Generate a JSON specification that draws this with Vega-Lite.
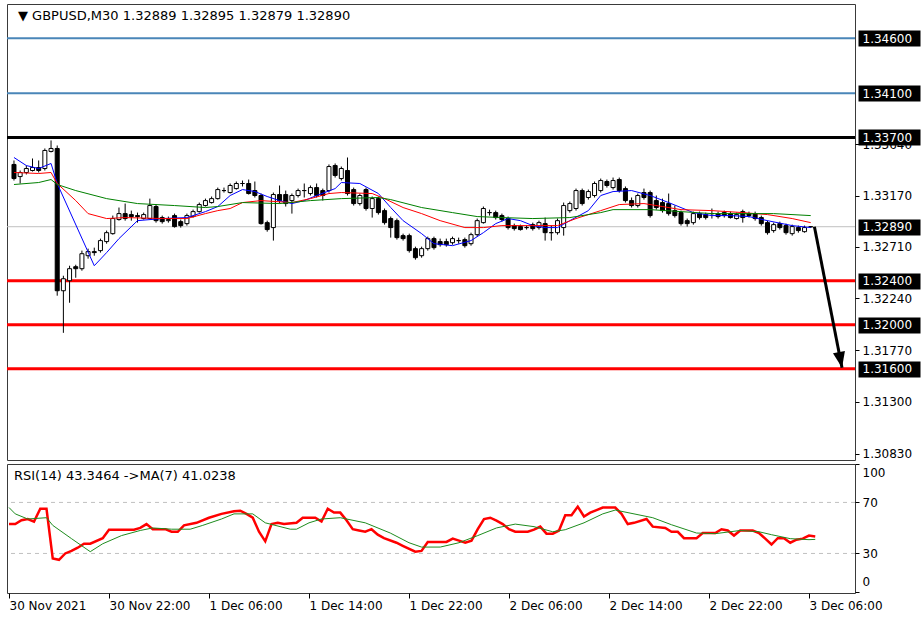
{
  "$schema": "https://vega.github.io/schema/vega-lite/v6.json",
  "background": "white",
  "padding": {"left": 3, "top": 3, "right": 0, "bottom": 0},
  "config": {
    "view": {"stroke": "#3a3a3a", "strokeWidth": 1},
    "font": "DejaVu Sans",
    "axis": {"grid": false, "labelFont": "DejaVu Sans", "labelFontSize": 12, "labelColor": "#000000", "tickColor": "#000000", "domain": false, "title": null}
  },
  "datasets": {
    "headers": [
      {"panel": "price", "label": "▼ GBPUSD,M30  1.32889 1.32895 1.32879 1.32890"},
      {"panel": "rsi", "label": "RSI(14) 43.3464  ->MA(7) 41.0238"}
    ],
    "levels": [
      {"p": 1.346, "kind": "target"},
      {"p": 1.341, "kind": "target"},
      {"p": 1.337, "kind": "resistance"},
      {"p": 1.3289, "kind": "price"},
      {"p": 1.324, "kind": "support"},
      {"p": 1.32, "kind": "support"},
      {"p": 1.316, "kind": "support"}
    ],
    "arrow": [
      {"t1": "2021-12-03T06:48", "p1": 1.3289, "t2": "2021-12-03T09:02", "p2": 1.3161}
    ],
    "rsiLevels": [{"v": 30}, {"v": 70}],
    "candles": [
      {"t":"2021-11-30T14:00","o":1.33455,"h":1.33491,"l":1.33309,"c":1.33327},
      {"t":"2021-11-30T14:30","o":1.33345,"h":1.334,"l":1.33282,"c":1.33382},
      {"t":"2021-11-30T15:00","o":1.33382,"h":1.33445,"l":1.33364,"c":1.33418},
      {"t":"2021-11-30T15:30","o":1.334,"h":1.33509,"l":1.33391,"c":1.33427},
      {"t":"2021-11-30T16:00","o":1.33427,"h":1.33491,"l":1.33382,"c":1.334},
      {"t":"2021-11-30T16:30","o":1.33418,"h":1.336,"l":1.334,"c":1.33582},
      {"t":"2021-11-30T17:00","o":1.33573,"h":1.33673,"l":1.33564,"c":1.336},
      {"t":"2021-11-30T17:30","o":1.336,"h":1.33627,"l":1.32264,"c":1.32309},
      {"t":"2021-11-30T18:00","o":1.32309,"h":1.32445,"l":1.31927,"c":1.32418},
      {"t":"2021-11-30T18:30","o":1.324,"h":1.32536,"l":1.322,"c":1.32509},
      {"t":"2021-11-30T19:00","o":1.32527,"h":1.32545,"l":1.32427,"c":1.32509},
      {"t":"2021-11-30T19:30","o":1.32509,"h":1.32673,"l":1.32491,"c":1.32645},
      {"t":"2021-11-30T20:00","o":1.32627,"h":1.32691,"l":1.326,"c":1.32664},
      {"t":"2021-11-30T20:30","o":1.32664,"h":1.327,"l":1.32627,"c":1.32655},
      {"t":"2021-11-30T21:00","o":1.32673,"h":1.32782,"l":1.32655,"c":1.32764},
      {"t":"2021-11-30T21:30","o":1.32755,"h":1.32855,"l":1.32736,"c":1.32836},
      {"t":"2021-11-30T22:00","o":1.32827,"h":1.32991,"l":1.32818,"c":1.32964},
      {"t":"2021-11-30T22:30","o":1.32955,"h":1.33064,"l":1.32945,"c":1.33009},
      {"t":"2021-11-30T23:00","o":1.33009,"h":1.331,"l":1.32945,"c":1.32964},
      {"t":"2021-11-30T23:30","o":1.33,"h":1.33036,"l":1.32945,"c":1.32982},
      {"t":"2021-12-01T00:00","o":1.32991,"h":1.33018,"l":1.32927,"c":1.32982},
      {"t":"2021-12-01T00:30","o":1.32964,"h":1.33018,"l":1.32955,"c":1.33},
      {"t":"2021-12-01T01:00","o":1.32964,"h":1.33145,"l":1.32955,"c":1.33082},
      {"t":"2021-12-01T01:30","o":1.33073,"h":1.33091,"l":1.32927,"c":1.32945},
      {"t":"2021-12-01T02:00","o":1.32973,"h":1.32991,"l":1.32918,"c":1.32936},
      {"t":"2021-12-01T02:30","o":1.32945,"h":1.32982,"l":1.32927,"c":1.32955},
      {"t":"2021-12-01T03:00","o":1.32991,"h":1.33009,"l":1.32882,"c":1.32891},
      {"t":"2021-12-01T03:30","o":1.32936,"h":1.32955,"l":1.32882,"c":1.329},
      {"t":"2021-12-01T04:00","o":1.32918,"h":1.33009,"l":1.329,"c":1.32991},
      {"t":"2021-12-01T04:30","o":1.32982,"h":1.33045,"l":1.32973,"c":1.33027},
      {"t":"2021-12-01T05:00","o":1.33027,"h":1.33109,"l":1.33018,"c":1.33091},
      {"t":"2021-12-01T05:30","o":1.33082,"h":1.33145,"l":1.33073,"c":1.33127},
      {"t":"2021-12-01T06:00","o":1.33109,"h":1.33164,"l":1.331,"c":1.33145},
      {"t":"2021-12-01T06:30","o":1.33145,"h":1.33245,"l":1.33136,"c":1.33227},
      {"t":"2021-12-01T07:00","o":1.33218,"h":1.33245,"l":1.332,"c":1.33218},
      {"t":"2021-12-01T07:30","o":1.332,"h":1.33282,"l":1.33191,"c":1.33264},
      {"t":"2021-12-01T08:00","o":1.33236,"h":1.333,"l":1.33227,"c":1.33282},
      {"t":"2021-12-01T08:30","o":1.33282,"h":1.33309,"l":1.33255,"c":1.33282},
      {"t":"2021-12-01T09:00","o":1.33282,"h":1.33318,"l":1.33182,"c":1.33191},
      {"t":"2021-12-01T09:30","o":1.33218,"h":1.333,"l":1.33155,"c":1.33173},
      {"t":"2021-12-01T10:00","o":1.33173,"h":1.33191,"l":1.32909,"c":1.32918},
      {"t":"2021-12-01T10:30","o":1.32927,"h":1.32945,"l":1.32845,"c":1.32864},
      {"t":"2021-12-01T11:00","o":1.32882,"h":1.332,"l":1.32764,"c":1.33182},
      {"t":"2021-12-01T11:30","o":1.33182,"h":1.33264,"l":1.331,"c":1.33127},
      {"t":"2021-12-01T12:00","o":1.33182,"h":1.33218,"l":1.33073,"c":1.331},
      {"t":"2021-12-01T12:30","o":1.33127,"h":1.33191,"l":1.33009,"c":1.33173},
      {"t":"2021-12-01T13:00","o":1.33173,"h":1.33236,"l":1.33155,"c":1.33218},
      {"t":"2021-12-01T13:30","o":1.33218,"h":1.33282,"l":1.33155,"c":1.33218},
      {"t":"2021-12-01T14:00","o":1.33191,"h":1.33264,"l":1.33173,"c":1.33245},
      {"t":"2021-12-01T14:30","o":1.33245,"h":1.33282,"l":1.33155,"c":1.33173},
      {"t":"2021-12-01T15:00","o":1.33218,"h":1.33236,"l":1.33127,"c":1.33173},
      {"t":"2021-12-01T15:30","o":1.33218,"h":1.33455,"l":1.332,"c":1.33436},
      {"t":"2021-12-01T16:00","o":1.33445,"h":1.33464,"l":1.33336,"c":1.33355},
      {"t":"2021-12-01T16:30","o":1.33327,"h":1.33436,"l":1.33309,"c":1.33418},
      {"t":"2021-12-01T17:00","o":1.334,"h":1.33518,"l":1.33173,"c":1.33191},
      {"t":"2021-12-01T17:30","o":1.33227,"h":1.33245,"l":1.33082,"c":1.331},
      {"t":"2021-12-01T18:00","o":1.331,"h":1.33191,"l":1.33082,"c":1.33173},
      {"t":"2021-12-01T18:30","o":1.33227,"h":1.33245,"l":1.33036,"c":1.33055},
      {"t":"2021-12-01T19:00","o":1.33055,"h":1.33164,"l":1.32973,"c":1.33145},
      {"t":"2021-12-01T19:30","o":1.33145,"h":1.33164,"l":1.33,"c":1.33018},
      {"t":"2021-12-01T20:00","o":1.33036,"h":1.33055,"l":1.32909,"c":1.32927},
      {"t":"2021-12-01T20:30","o":1.32964,"h":1.32982,"l":1.32791,"c":1.32882},
      {"t":"2021-12-01T21:00","o":1.32945,"h":1.32964,"l":1.32773,"c":1.32791},
      {"t":"2021-12-01T21:30","o":1.32809,"h":1.32827,"l":1.32764,"c":1.32782},
      {"t":"2021-12-01T22:00","o":1.32809,"h":1.32827,"l":1.32655,"c":1.32673},
      {"t":"2021-12-01T22:30","o":1.32691,"h":1.32709,"l":1.32591,"c":1.32609},
      {"t":"2021-12-01T23:00","o":1.32627,"h":1.32709,"l":1.32609,"c":1.32691},
      {"t":"2021-12-01T23:30","o":1.32691,"h":1.328,"l":1.32673,"c":1.32782},
      {"t":"2021-12-02T00:00","o":1.32782,"h":1.328,"l":1.32682,"c":1.327},
      {"t":"2021-12-02T00:30","o":1.32755,"h":1.32782,"l":1.32709,"c":1.32727},
      {"t":"2021-12-02T01:00","o":1.32755,"h":1.32782,"l":1.32709,"c":1.32727},
      {"t":"2021-12-02T01:30","o":1.32745,"h":1.328,"l":1.32727,"c":1.32782},
      {"t":"2021-12-02T02:00","o":1.32764,"h":1.32791,"l":1.32736,"c":1.32764},
      {"t":"2021-12-02T02:30","o":1.32773,"h":1.32791,"l":1.327,"c":1.32718},
      {"t":"2021-12-02T03:00","o":1.32736,"h":1.32836,"l":1.32718,"c":1.32818},
      {"t":"2021-12-02T03:30","o":1.32818,"h":1.32964,"l":1.328,"c":1.32945},
      {"t":"2021-12-02T04:00","o":1.32927,"h":1.33073,"l":1.32918,"c":1.33055},
      {"t":"2021-12-02T04:30","o":1.33018,"h":1.33045,"l":1.32991,"c":1.33018},
      {"t":"2021-12-02T05:00","o":1.33018,"h":1.33036,"l":1.32955,"c":1.32973},
      {"t":"2021-12-02T05:30","o":1.32991,"h":1.33009,"l":1.32936,"c":1.32955},
      {"t":"2021-12-02T06:00","o":1.32964,"h":1.32982,"l":1.32864,"c":1.32882},
      {"t":"2021-12-02T06:30","o":1.329,"h":1.32918,"l":1.32855,"c":1.32873},
      {"t":"2021-12-02T07:00","o":1.32891,"h":1.32909,"l":1.32855,"c":1.32864},
      {"t":"2021-12-02T07:30","o":1.32882,"h":1.329,"l":1.32864,"c":1.32882},
      {"t":"2021-12-02T08:00","o":1.32909,"h":1.32927,"l":1.32855,"c":1.32873},
      {"t":"2021-12-02T08:30","o":1.32882,"h":1.32945,"l":1.32864,"c":1.32927},
      {"t":"2021-12-02T09:00","o":1.32918,"h":1.32973,"l":1.32764,"c":1.32836},
      {"t":"2021-12-02T09:30","o":1.32836,"h":1.329,"l":1.32764,"c":1.32836},
      {"t":"2021-12-02T10:00","o":1.32836,"h":1.32964,"l":1.32818,"c":1.32945},
      {"t":"2021-12-02T10:30","o":1.32882,"h":1.33109,"l":1.32809,"c":1.33082},
      {"t":"2021-12-02T11:00","o":1.33036,"h":1.33118,"l":1.33018,"c":1.331},
      {"t":"2021-12-02T11:30","o":1.33055,"h":1.33236,"l":1.33036,"c":1.33218},
      {"t":"2021-12-02T12:00","o":1.33218,"h":1.33236,"l":1.33082,"c":1.331},
      {"t":"2021-12-02T12:30","o":1.33155,"h":1.33227,"l":1.33136,"c":1.33209},
      {"t":"2021-12-02T13:00","o":1.33173,"h":1.333,"l":1.33155,"c":1.33282},
      {"t":"2021-12-02T13:30","o":1.33218,"h":1.33327,"l":1.332,"c":1.33309},
      {"t":"2021-12-02T14:00","o":1.333,"h":1.33318,"l":1.33245,"c":1.33264},
      {"t":"2021-12-02T14:30","o":1.33245,"h":1.33336,"l":1.33227,"c":1.33309},
      {"t":"2021-12-02T15:00","o":1.33318,"h":1.33336,"l":1.332,"c":1.33218},
      {"t":"2021-12-02T15:30","o":1.33236,"h":1.33255,"l":1.33109,"c":1.33127},
      {"t":"2021-12-02T16:00","o":1.33127,"h":1.33155,"l":1.33064,"c":1.33082},
      {"t":"2021-12-02T16:30","o":1.33082,"h":1.33191,"l":1.33064,"c":1.33173},
      {"t":"2021-12-02T17:00","o":1.332,"h":1.33236,"l":1.33136,"c":1.33155},
      {"t":"2021-12-02T17:30","o":1.332,"h":1.33218,"l":1.32973,"c":1.32991},
      {"t":"2021-12-02T18:00","o":1.33127,"h":1.33173,"l":1.33045,"c":1.33064},
      {"t":"2021-12-02T18:30","o":1.33109,"h":1.33145,"l":1.33018,"c":1.33036},
      {"t":"2021-12-02T19:00","o":1.331,"h":1.33191,"l":1.32991,"c":1.33009},
      {"t":"2021-12-02T19:30","o":1.33036,"h":1.33082,"l":1.32973,"c":1.32991},
      {"t":"2021-12-02T20:00","o":1.33018,"h":1.33036,"l":1.329,"c":1.32918},
      {"t":"2021-12-02T20:30","o":1.32945,"h":1.32964,"l":1.32891,"c":1.32918},
      {"t":"2021-12-02T21:00","o":1.32927,"h":1.33027,"l":1.32909,"c":1.33009},
      {"t":"2021-12-02T21:30","o":1.33009,"h":1.33027,"l":1.32955,"c":1.32973},
      {"t":"2021-12-02T22:00","o":1.33,"h":1.33018,"l":1.32955,"c":1.32973},
      {"t":"2021-12-02T22:30","o":1.33009,"h":1.33055,"l":1.32964,"c":1.33009},
      {"t":"2021-12-02T23:00","o":1.33009,"h":1.33027,"l":1.32964,"c":1.32982},
      {"t":"2021-12-02T23:30","o":1.33018,"h":1.33036,"l":1.32973,"c":1.32991},
      {"t":"2021-12-03T00:00","o":1.33009,"h":1.33027,"l":1.32964,"c":1.32973},
      {"t":"2021-12-03T00:30","o":1.32964,"h":1.33018,"l":1.32955,"c":1.33},
      {"t":"2021-12-03T01:00","o":1.33027,"h":1.33045,"l":1.32927,"c":1.32973},
      {"t":"2021-12-03T01:30","o":1.33009,"h":1.33027,"l":1.32973,"c":1.32991},
      {"t":"2021-12-03T02:00","o":1.33009,"h":1.33027,"l":1.32945,"c":1.32964},
      {"t":"2021-12-03T02:30","o":1.32973,"h":1.32991,"l":1.329,"c":1.32918},
      {"t":"2021-12-03T03:00","o":1.32927,"h":1.32945,"l":1.32818,"c":1.32836},
      {"t":"2021-12-03T03:30","o":1.32855,"h":1.32927,"l":1.32836,"c":1.32909},
      {"t":"2021-12-03T04:00","o":1.32918,"h":1.32936,"l":1.32864,"c":1.32882},
      {"t":"2021-12-03T04:30","o":1.329,"h":1.32918,"l":1.32818,"c":1.32836},
      {"t":"2021-12-03T05:00","o":1.32827,"h":1.32909,"l":1.32809,"c":1.32891},
      {"t":"2021-12-03T05:30","o":1.32882,"h":1.329,"l":1.32836,"c":1.32855},
      {"t":"2021-12-03T06:00","o":1.32845,"h":1.329,"l":1.32836,"c":1.32882},
      {"t":"2021-12-03T06:30","o":1.32889,"h":1.32895,"l":1.32879,"c":1.3289}
    ],
    "ma": [
      {"t":"2021-11-30T14:00","s":"fast","v":1.33518},
      {"t":"2021-11-30T15:00","s":"fast","v":1.33445},
      {"t":"2021-11-30T16:00","s":"fast","v":1.33418},
      {"t":"2021-11-30T17:00","s":"fast","v":1.33464},
      {"t":"2021-11-30T17:30","s":"fast","v":1.33282},
      {"t":"2021-11-30T20:30","s":"fast","v":1.32536},
      {"t":"2021-11-30T21:30","s":"fast","v":1.32655},
      {"t":"2021-11-30T22:30","s":"fast","v":1.32782},
      {"t":"2021-12-01T00:00","s":"fast","v":1.32945},
      {"t":"2021-12-01T02:00","s":"fast","v":1.32964},
      {"t":"2021-12-01T04:00","s":"fast","v":1.32973},
      {"t":"2021-12-01T05:30","s":"fast","v":1.33027},
      {"t":"2021-12-01T06:30","s":"fast","v":1.33073},
      {"t":"2021-12-01T07:30","s":"fast","v":1.33173},
      {"t":"2021-12-01T08:30","s":"fast","v":1.33227},
      {"t":"2021-12-01T09:30","s":"fast","v":1.33209},
      {"t":"2021-12-01T10:30","s":"fast","v":1.33164},
      {"t":"2021-12-01T11:30","s":"fast","v":1.33127},
      {"t":"2021-12-01T12:30","s":"fast","v":1.331},
      {"t":"2021-12-01T13:30","s":"fast","v":1.33127},
      {"t":"2021-12-01T14:30","s":"fast","v":1.33173},
      {"t":"2021-12-01T16:00","s":"fast","v":1.33236},
      {"t":"2021-12-01T16:30","s":"fast","v":1.33291},
      {"t":"2021-12-01T18:00","s":"fast","v":1.33282},
      {"t":"2021-12-01T19:30","s":"fast","v":1.33191},
      {"t":"2021-12-01T20:30","s":"fast","v":1.33064},
      {"t":"2021-12-01T21:30","s":"fast","v":1.32945},
      {"t":"2021-12-01T23:00","s":"fast","v":1.32827},
      {"t":"2021-12-02T00:00","s":"fast","v":1.32736},
      {"t":"2021-12-02T01:30","s":"fast","v":1.32718},
      {"t":"2021-12-02T03:00","s":"fast","v":1.32764},
      {"t":"2021-12-02T04:00","s":"fast","v":1.32836},
      {"t":"2021-12-02T05:00","s":"fast","v":1.32918},
      {"t":"2021-12-02T06:00","s":"fast","v":1.32964},
      {"t":"2021-12-02T07:00","s":"fast","v":1.32945},
      {"t":"2021-12-02T08:00","s":"fast","v":1.329},
      {"t":"2021-12-02T09:00","s":"fast","v":1.32882},
      {"t":"2021-12-02T10:00","s":"fast","v":1.32882},
      {"t":"2021-12-02T11:00","s":"fast","v":1.32945},
      {"t":"2021-12-02T12:30","s":"fast","v":1.33036},
      {"t":"2021-12-02T13:30","s":"fast","v":1.33173},
      {"t":"2021-12-02T14:30","s":"fast","v":1.33209},
      {"t":"2021-12-02T16:00","s":"fast","v":1.33218},
      {"t":"2021-12-02T17:30","s":"fast","v":1.33173},
      {"t":"2021-12-02T19:00","s":"fast","v":1.33109},
      {"t":"2021-12-02T21:00","s":"fast","v":1.33018},
      {"t":"2021-12-02T22:30","s":"fast","v":1.32991},
      {"t":"2021-12-03T00:00","s":"fast","v":1.32991},
      {"t":"2021-12-03T01:30","s":"fast","v":1.32982},
      {"t":"2021-12-03T03:00","s":"fast","v":1.32945},
      {"t":"2021-12-03T05:00","s":"fast","v":1.329},
      {"t":"2021-12-03T06:30","s":"fast","v":1.32882},
      {"t":"2021-11-30T14:00","s":"mid","v":1.33382},
      {"t":"2021-11-30T16:00","s":"mid","v":1.33373},
      {"t":"2021-11-30T17:00","s":"mid","v":1.33382},
      {"t":"2021-11-30T17:30","s":"mid","v":1.33282},
      {"t":"2021-11-30T19:00","s":"mid","v":1.33127},
      {"t":"2021-11-30T20:00","s":"mid","v":1.33009},
      {"t":"2021-11-30T21:30","s":"mid","v":1.32964},
      {"t":"2021-11-30T23:00","s":"mid","v":1.32973},
      {"t":"2021-12-01T02:00","s":"mid","v":1.32964},
      {"t":"2021-12-01T04:00","s":"mid","v":1.32964},
      {"t":"2021-12-01T05:30","s":"mid","v":1.33009},
      {"t":"2021-12-01T06:30","s":"mid","v":1.33036},
      {"t":"2021-12-01T07:30","s":"mid","v":1.33055},
      {"t":"2021-12-01T08:30","s":"mid","v":1.33109},
      {"t":"2021-12-01T10:00","s":"mid","v":1.33127},
      {"t":"2021-12-01T12:30","s":"mid","v":1.33109},
      {"t":"2021-12-01T14:00","s":"mid","v":1.33145},
      {"t":"2021-12-01T15:30","s":"mid","v":1.33191},
      {"t":"2021-12-01T16:30","s":"mid","v":1.332},
      {"t":"2021-12-01T19:00","s":"mid","v":1.33191},
      {"t":"2021-12-01T20:00","s":"mid","v":1.33145},
      {"t":"2021-12-01T21:30","s":"mid","v":1.33064},
      {"t":"2021-12-01T23:00","s":"mid","v":1.33009},
      {"t":"2021-12-02T00:30","s":"mid","v":1.32945},
      {"t":"2021-12-02T02:30","s":"mid","v":1.32882},
      {"t":"2021-12-02T04:00","s":"mid","v":1.32882},
      {"t":"2021-12-02T05:30","s":"mid","v":1.329},
      {"t":"2021-12-02T08:00","s":"mid","v":1.329},
      {"t":"2021-12-02T10:00","s":"mid","v":1.329},
      {"t":"2021-12-02T11:30","s":"mid","v":1.32964},
      {"t":"2021-12-02T13:30","s":"mid","v":1.33036},
      {"t":"2021-12-02T15:00","s":"mid","v":1.33091},
      {"t":"2021-12-02T17:00","s":"mid","v":1.331},
      {"t":"2021-12-02T18:30","s":"mid","v":1.33073},
      {"t":"2021-12-02T20:00","s":"mid","v":1.33045},
      {"t":"2021-12-02T22:30","s":"mid","v":1.33036},
      {"t":"2021-12-03T01:00","s":"mid","v":1.33018},
      {"t":"2021-12-03T03:00","s":"mid","v":1.33},
      {"t":"2021-12-03T05:00","s":"mid","v":1.32964},
      {"t":"2021-12-03T06:30","s":"mid","v":1.32927},
      {"t":"2021-11-30T14:00","s":"slow","v":1.33273},
      {"t":"2021-11-30T16:00","s":"slow","v":1.33291},
      {"t":"2021-11-30T17:00","s":"slow","v":1.33318},
      {"t":"2021-11-30T17:30","s":"slow","v":1.33273},
      {"t":"2021-11-30T19:00","s":"slow","v":1.33218},
      {"t":"2021-11-30T21:30","s":"slow","v":1.33145},
      {"t":"2021-12-01T00:00","s":"slow","v":1.331},
      {"t":"2021-12-01T03:00","s":"slow","v":1.33082},
      {"t":"2021-12-01T05:30","s":"slow","v":1.33064},
      {"t":"2021-12-01T06:30","s":"slow","v":1.33073},
      {"t":"2021-12-01T08:30","s":"slow","v":1.33109},
      {"t":"2021-12-01T11:30","s":"slow","v":1.331},
      {"t":"2021-12-01T14:00","s":"slow","v":1.33127},
      {"t":"2021-12-01T16:30","s":"slow","v":1.33145},
      {"t":"2021-12-01T19:30","s":"slow","v":1.33155},
      {"t":"2021-12-01T20:30","s":"slow","v":1.33136},
      {"t":"2021-12-01T23:00","s":"slow","v":1.33064},
      {"t":"2021-12-02T01:30","s":"slow","v":1.33018},
      {"t":"2021-12-02T03:30","s":"slow","v":1.32982},
      {"t":"2021-12-02T05:30","s":"slow","v":1.32973},
      {"t":"2021-12-02T08:00","s":"slow","v":1.32964},
      {"t":"2021-12-02T11:00","s":"slow","v":1.32973},
      {"t":"2021-12-02T13:30","s":"slow","v":1.33018},
      {"t":"2021-12-02T14:30","s":"slow","v":1.33045},
      {"t":"2021-12-02T17:30","s":"slow","v":1.33045},
      {"t":"2021-12-02T20:00","s":"slow","v":1.33027},
      {"t":"2021-12-02T22:30","s":"slow","v":1.33009},
      {"t":"2021-12-03T01:00","s":"slow","v":1.33009},
      {"t":"2021-12-03T03:30","s":"slow","v":1.33009},
      {"t":"2021-12-03T06:30","s":"slow","v":1.32991}
    ],
    "rsi": [
      {"t":"2021-11-30T14:00","s":"rsi","v":53},
      {"t":"2021-11-30T14:30","s":"rsi","v":53},
      {"t":"2021-11-30T15:00","s":"rsi","v":56},
      {"t":"2021-11-30T15:30","s":"rsi","v":57},
      {"t":"2021-11-30T16:00","s":"rsi","v":55},
      {"t":"2021-11-30T16:30","s":"rsi","v":65},
      {"t":"2021-11-30T17:00","s":"rsi","v":65},
      {"t":"2021-11-30T17:30","s":"rsi","v":26},
      {"t":"2021-11-30T18:00","s":"rsi","v":25},
      {"t":"2021-11-30T18:30","s":"rsi","v":30},
      {"t":"2021-11-30T19:00","s":"rsi","v":32},
      {"t":"2021-11-30T19:30","s":"rsi","v":34.5},
      {"t":"2021-11-30T20:00","s":"rsi","v":37.6},
      {"t":"2021-11-30T20:30","s":"rsi","v":37.6},
      {"t":"2021-11-30T21:30","s":"rsi","v":42},
      {"t":"2021-11-30T22:00","s":"rsi","v":48.6},
      {"t":"2021-11-30T23:00","s":"rsi","v":48.6},
      {"t":"2021-12-01T00:00","s":"rsi","v":48.6},
      {"t":"2021-12-01T00:30","s":"rsi","v":50},
      {"t":"2021-12-01T01:00","s":"rsi","v":53},
      {"t":"2021-12-01T01:30","s":"rsi","v":49},
      {"t":"2021-12-01T02:30","s":"rsi","v":49},
      {"t":"2021-12-01T03:00","s":"rsi","v":47},
      {"t":"2021-12-01T03:30","s":"rsi","v":47},
      {"t":"2021-12-01T04:00","s":"rsi","v":52},
      {"t":"2021-12-01T05:00","s":"rsi","v":54},
      {"t":"2021-12-01T06:00","s":"rsi","v":58},
      {"t":"2021-12-01T07:00","s":"rsi","v":61},
      {"t":"2021-12-01T08:00","s":"rsi","v":63},
      {"t":"2021-12-01T08:30","s":"rsi","v":63.5},
      {"t":"2021-12-01T09:00","s":"rsi","v":61},
      {"t":"2021-12-01T09:30","s":"rsi","v":58},
      {"t":"2021-12-01T10:00","s":"rsi","v":47},
      {"t":"2021-12-01T10:30","s":"rsi","v":39.5},
      {"t":"2021-12-01T11:00","s":"rsi","v":53},
      {"t":"2021-12-01T11:30","s":"rsi","v":54},
      {"t":"2021-12-01T12:00","s":"rsi","v":53},
      {"t":"2021-12-01T13:00","s":"rsi","v":54},
      {"t":"2021-12-01T13:30","s":"rsi","v":58},
      {"t":"2021-12-01T14:30","s":"rsi","v":58},
      {"t":"2021-12-01T15:00","s":"rsi","v":55},
      {"t":"2021-12-01T15:30","s":"rsi","v":65},
      {"t":"2021-12-01T16:00","s":"rsi","v":62},
      {"t":"2021-12-01T16:30","s":"rsi","v":62},
      {"t":"2021-12-01T17:00","s":"rsi","v":56},
      {"t":"2021-12-01T17:30","s":"rsi","v":49},
      {"t":"2021-12-01T18:00","s":"rsi","v":48},
      {"t":"2021-12-01T18:30","s":"rsi","v":47},
      {"t":"2021-12-01T19:00","s":"rsi","v":49},
      {"t":"2021-12-01T19:30","s":"rsi","v":44.7},
      {"t":"2021-12-01T20:00","s":"rsi","v":42},
      {"t":"2021-12-01T21:00","s":"rsi","v":38.4},
      {"t":"2021-12-01T21:30","s":"rsi","v":36},
      {"t":"2021-12-01T22:30","s":"rsi","v":31.4},
      {"t":"2021-12-01T23:00","s":"rsi","v":32},
      {"t":"2021-12-01T23:30","s":"rsi","v":39},
      {"t":"2021-12-02T00:00","s":"rsi","v":39},
      {"t":"2021-12-02T01:00","s":"rsi","v":39},
      {"t":"2021-12-02T01:30","s":"rsi","v":41.6},
      {"t":"2021-12-02T02:00","s":"rsi","v":40},
      {"t":"2021-12-02T02:30","s":"rsi","v":38.4},
      {"t":"2021-12-02T03:00","s":"rsi","v":40},
      {"t":"2021-12-02T03:30","s":"rsi","v":49},
      {"t":"2021-12-02T04:00","s":"rsi","v":57},
      {"t":"2021-12-02T04:30","s":"rsi","v":58},
      {"t":"2021-12-02T05:00","s":"rsi","v":55.7},
      {"t":"2021-12-02T05:30","s":"rsi","v":53},
      {"t":"2021-12-02T06:00","s":"rsi","v":49},
      {"t":"2021-12-02T06:30","s":"rsi","v":47},
      {"t":"2021-12-02T07:30","s":"rsi","v":47},
      {"t":"2021-12-02T08:00","s":"rsi","v":48.6},
      {"t":"2021-12-02T08:30","s":"rsi","v":51},
      {"t":"2021-12-02T09:00","s":"rsi","v":45.5},
      {"t":"2021-12-02T09:30","s":"rsi","v":45.5},
      {"t":"2021-12-02T10:00","s":"rsi","v":48},
      {"t":"2021-12-02T10:30","s":"rsi","v":60},
      {"t":"2021-12-02T11:00","s":"rsi","v":60},
      {"t":"2021-12-02T11:30","s":"rsi","v":66.7},
      {"t":"2021-12-02T12:00","s":"rsi","v":59},
      {"t":"2021-12-02T12:30","s":"rsi","v":62},
      {"t":"2021-12-02T13:00","s":"rsi","v":64},
      {"t":"2021-12-02T13:30","s":"rsi","v":66},
      {"t":"2021-12-02T14:30","s":"rsi","v":66},
      {"t":"2021-12-02T15:00","s":"rsi","v":61},
      {"t":"2021-12-02T15:30","s":"rsi","v":53},
      {"t":"2021-12-02T16:00","s":"rsi","v":54},
      {"t":"2021-12-02T17:00","s":"rsi","v":57},
      {"t":"2021-12-02T17:30","s":"rsi","v":51},
      {"t":"2021-12-02T18:30","s":"rsi","v":50},
      {"t":"2021-12-02T19:00","s":"rsi","v":47},
      {"t":"2021-12-02T19:30","s":"rsi","v":47},
      {"t":"2021-12-02T20:00","s":"rsi","v":42},
      {"t":"2021-12-02T21:00","s":"rsi","v":42},
      {"t":"2021-12-02T21:30","s":"rsi","v":46},
      {"t":"2021-12-02T22:30","s":"rsi","v":46},
      {"t":"2021-12-02T23:00","s":"rsi","v":49},
      {"t":"2021-12-02T23:30","s":"rsi","v":48},
      {"t":"2021-12-03T00:00","s":"rsi","v":44},
      {"t":"2021-12-03T00:30","s":"rsi","v":48},
      {"t":"2021-12-03T01:30","s":"rsi","v":48},
      {"t":"2021-12-03T02:00","s":"rsi","v":46},
      {"t":"2021-12-03T02:30","s":"rsi","v":41.6},
      {"t":"2021-12-03T03:00","s":"rsi","v":37},
      {"t":"2021-12-03T03:30","s":"rsi","v":42},
      {"t":"2021-12-03T04:00","s":"rsi","v":42},
      {"t":"2021-12-03T04:30","s":"rsi","v":38.4},
      {"t":"2021-12-03T05:00","s":"rsi","v":40.8},
      {"t":"2021-12-03T05:30","s":"rsi","v":41.6},
      {"t":"2021-12-03T06:00","s":"rsi","v":44},
      {"t":"2021-12-03T06:30","s":"rsi","v":43.3464},
      {"t":"2021-11-30T14:00","s":"ma","v":66},
      {"t":"2021-11-30T14:30","s":"ma","v":61},
      {"t":"2021-11-30T15:30","s":"ma","v":57},
      {"t":"2021-11-30T17:00","s":"ma","v":58},
      {"t":"2021-11-30T17:30","s":"ma","v":52},
      {"t":"2021-11-30T19:00","s":"ma","v":41.6},
      {"t":"2021-11-30T20:30","s":"ma","v":31.4},
      {"t":"2021-11-30T21:30","s":"ma","v":37.6},
      {"t":"2021-11-30T23:00","s":"ma","v":44},
      {"t":"2021-12-01T00:30","s":"ma","v":48},
      {"t":"2021-12-01T01:30","s":"ma","v":50},
      {"t":"2021-12-01T03:00","s":"ma","v":49},
      {"t":"2021-12-01T04:30","s":"ma","v":49},
      {"t":"2021-12-01T05:30","s":"ma","v":52},
      {"t":"2021-12-01T07:00","s":"ma","v":57},
      {"t":"2021-12-01T08:00","s":"ma","v":61},
      {"t":"2021-12-01T09:30","s":"ma","v":61},
      {"t":"2021-12-01T10:30","s":"ma","v":54},
      {"t":"2021-12-01T12:30","s":"ma","v":49},
      {"t":"2021-12-01T13:00","s":"ma","v":49},
      {"t":"2021-12-01T14:00","s":"ma","v":54},
      {"t":"2021-12-01T15:00","s":"ma","v":57},
      {"t":"2021-12-01T16:30","s":"ma","v":58},
      {"t":"2021-12-01T18:30","s":"ma","v":54},
      {"t":"2021-12-01T20:30","s":"ma","v":46},
      {"t":"2021-12-01T22:00","s":"ma","v":38.4},
      {"t":"2021-12-01T23:00","s":"ma","v":35},
      {"t":"2021-12-02T00:30","s":"ma","v":35},
      {"t":"2021-12-02T02:00","s":"ma","v":38.4},
      {"t":"2021-12-02T03:30","s":"ma","v":44},
      {"t":"2021-12-02T05:00","s":"ma","v":50},
      {"t":"2021-12-02T06:30","s":"ma","v":53},
      {"t":"2021-12-02T08:00","s":"ma","v":51},
      {"t":"2021-12-02T09:30","s":"ma","v":47},
      {"t":"2021-12-02T10:30","s":"ma","v":48.6},
      {"t":"2021-12-02T12:00","s":"ma","v":54},
      {"t":"2021-12-02T13:30","s":"ma","v":61},
      {"t":"2021-12-02T14:30","s":"ma","v":64},
      {"t":"2021-12-02T16:00","s":"ma","v":61},
      {"t":"2021-12-02T17:30","s":"ma","v":58},
      {"t":"2021-12-02T19:00","s":"ma","v":52.5},
      {"t":"2021-12-02T21:00","s":"ma","v":46},
      {"t":"2021-12-02T22:30","s":"ma","v":45.5},
      {"t":"2021-12-03T00:30","s":"ma","v":48},
      {"t":"2021-12-03T02:00","s":"ma","v":47},
      {"t":"2021-12-03T03:00","s":"ma","v":44.7},
      {"t":"2021-12-03T04:30","s":"ma","v":41.6},
      {"t":"2021-12-03T06:00","s":"ma","v":40.8},
      {"t":"2021-12-03T06:30","s":"ma","v":41.0238}
    ]
  },
  "spacing": 4,
  "bounds": "flush",
  "vconcat": [
    {
      "width": 848,
      "height": 456,
      "layer": [
        {
          "data": {"name": "levels"},
          "mark": {"type": "rule"},
          "encoding": {
            "y": {
              "field": "p", "type": "quantitative",
              "scale": {"domain": [1.30773, 1.34911], "zero": false, "nice": false},
              "axis": {
                "orient": "right", "values": [1.346, 1.341, 1.337, 1.3289, 1.324, 1.32, 1.316], "format": ".5f",
                "offset": 3, "tickSize": 62, "tickWidth": 16, "labelPadding": -58, "labelColor": "#ffffff",
                "labelOverlap": false, "labelFontSize": 12, "zindex": 1,
                "encode": {"ticks": {"update": {"stroke": {"signal": "datum.value > 1.3395 ? '#4a86b8' : (datum.value > 1.3265 ? '#000000' : '#ff0000')"}}}}
              }
            },
            "color": {
              "field": "kind", "type": "nominal", "legend": null,
              "scale": {"domain": ["target", "resistance", "price", "support", "fast", "mid", "slow"], "range": ["#4a86b8", "#000000", "#c0c0c0", "#ff0000", "#0000ff", "#ff0000", "#008000"]}
            },
            "strokeWidth": {"condition": [{"test": "datum.kind == 'price'", "value": 1}, {"test": "datum.kind == 'target'", "value": 2}], "value": 3}
          }
        },
        {
          "data": {"name": "candles"},
          "mark": {"type": "rule", "color": "#000000", "strokeWidth": 1},
          "encoding": {
            "x": {"field": "t", "type": "temporal", "axis": null, "scale": {"domain": [{"year": 2021, "month": 11, "date": 30, "hours": 13, "minutes": 50, "seconds": 24}, {"year": 2021, "month": 12, "date": 3, "hours": 9, "minutes": 40, "seconds": 48}]}},
            "y": {
              "field": "l", "type": "quantitative",
              "axis": {"orient": "right", "values": [1.3083, 1.313, 1.3177, 1.3224, 1.3271, 1.3317, 1.3364], "format": ".5f", "tickSize": 4, "labelPadding": 3, "labelOverlap": false, "labelFontSize": 12}
            },
            "y2": {"field": "h"}
          }
        },
        {
          "data": {"name": "candles"},
          "mark": {"type": "bar", "size": 4, "stroke": "#000000", "strokeWidth": 1},
          "encoding": {
            "x": {"field": "t", "type": "temporal", "axis": null},
            "y": {"field": "o", "type": "quantitative", "axis": null},
            "y2": {"field": "c"},
            "fill": {"condition": {"test": "datum.c >= datum.o", "value": "#ffffff"}, "value": "#000000"}
          }
        },
        {
          "data": {"name": "ma"},
          "mark": {"type": "line", "strokeWidth": 1},
          "encoding": {
            "x": {"field": "t", "type": "temporal", "axis": null},
            "y": {"field": "v", "type": "quantitative", "axis": null},
            "color": {
              "field": "s", "type": "nominal", "legend": null,
              "scale": {"domain": ["target", "resistance", "price", "support", "fast", "mid", "slow"], "range": ["#4a86b8", "#000000", "#c0c0c0", "#ff0000", "#0000ff", "#ff0000", "#008000"]}
            }
          }
        },
        {
          "data": {"name": "arrow"},
          "mark": {"type": "rule", "color": "#000000", "strokeWidth": 3},
          "encoding": {
            "x": {"field": "t1", "type": "temporal", "axis": null},
            "y": {"field": "p1", "type": "quantitative", "axis": null},
            "x2": {"field": "t2"},
            "y2": {"field": "p2"}
          }
        },
        {
          "data": {"name": "arrow"},
          "mark": {"type": "point", "shape": "M0,0L-0.38,-1L0.38,-1Z", "filled": true, "color": "#000000", "size": 1024, "angle": 349, "opacity": 1},
          "encoding": {
            "x": {"field": "t2", "type": "temporal", "axis": null},
            "y": {"field": "p2", "type": "quantitative", "axis": null}
          }
        },
        {
          "data": {"name": "headers"},
          "transform": [{"filter": "datum.panel == 'price'"}],
          "mark": {"type": "text", "align": "left", "baseline": "middle", "dx": 4, "font": "DejaVu Sans", "fontSize": 13, "color": "#000000"},
          "encoding": {
            "text": {"field": "label", "type": "nominal"},
            "x": {"datum": {"year": 2021, "month": 11, "date": 30, "hours": 14}, "type": "temporal", "axis": null},
            "y": {"datum": 1.34802, "type": "quantitative", "axis": null}
          }
        }
      ],
      "resolve": {"axis": {"y": "independent"}, "scale": {"y": "shared"}}
    },
    {
      "width": 848,
      "height": 129,
      "layer": [
        {
          "data": {"name": "rsiLevels"},
          "mark": {"type": "rule", "color": "#c0c0c0", "strokeDash": [4, 4], "strokeWidth": 1},
          "encoding": {
            "y": {
              "field": "v", "type": "quantitative",
              "scale": {"domain": [-1, 100.1], "zero": false, "nice": false},
              "axis": {"orient": "right", "values": [0, 30, 70, 100], "tickSize": 4, "labelPadding": 3, "labelFlush": 3, "labelFlushOffset": -3, "labelOverlap": false, "labelFontSize": 12}
            }
          }
        },
        {
          "data": {"name": "rsi"},
          "transform": [{"filter": "datum.s == 'rsi'"}],
          "mark": {"type": "line", "color": "#ff0000", "strokeWidth": 2.5},
          "encoding": {
            "x": {
              "field": "t", "type": "temporal",
              "scale": {"domain": [{"year": 2021, "month": 11, "date": 30, "hours": 13, "minutes": 50, "seconds": 24}, {"year": 2021, "month": 12, "date": 3, "hours": 9, "minutes": 40, "seconds": 48}]},
              "axis": {
                "orient": "bottom", "tickSize": 5, "labelPadding": 2, "labelAlign": "left", "labelDx": -2, "labelFontSize": 12, "labelOverlap": false, "labelFlush": false,
                "values": [
                  {"year": 2021, "month": 11, "date": 30, "hours": 14},
                  {"year": 2021, "month": 11, "date": 30, "hours": 22},
                  {"year": 2021, "month": 12, "date": 1, "hours": 6},
                  {"year": 2021, "month": 12, "date": 1, "hours": 14},
                  {"year": 2021, "month": 12, "date": 1, "hours": 22},
                  {"year": 2021, "month": 12, "date": 2, "hours": 6},
                  {"year": 2021, "month": 12, "date": 2, "hours": 14},
                  {"year": 2021, "month": 12, "date": 2, "hours": 22},
                  {"year": 2021, "month": 12, "date": 3, "hours": 6}
                ],
                "labelExpr": "timeFormat(datum.value, '%d %H') == '30 14' ? '30 Nov 2021' : timeFormat(datum.value, '%-d %b %H:%M')"
              }
            },
            "y": {"field": "v", "type": "quantitative"}
          }
        },
        {
          "data": {"name": "rsi"},
          "transform": [{"filter": "datum.s == 'ma'"}],
          "mark": {"type": "line", "color": "#1e8c1e", "strokeWidth": 1},
          "encoding": {
            "x": {"field": "t", "type": "temporal"},
            "y": {"field": "v", "type": "quantitative"}
          }
        },
        {
          "data": {"name": "headers"},
          "transform": [{"filter": "datum.panel == 'rsi'"}],
          "mark": {"type": "text", "align": "left", "baseline": "middle", "dx": 5, "font": "DejaVu Sans", "fontSize": 13, "color": "#000000"},
          "encoding": {
            "text": {"field": "label", "type": "nominal"},
            "x": {"datum": {"year": 2021, "month": 11, "date": 30, "hours": 14}, "type": "temporal"},
            "y": {"datum": 90.7, "type": "quantitative"}
          }
        }
      ]
    }
  ]
}
